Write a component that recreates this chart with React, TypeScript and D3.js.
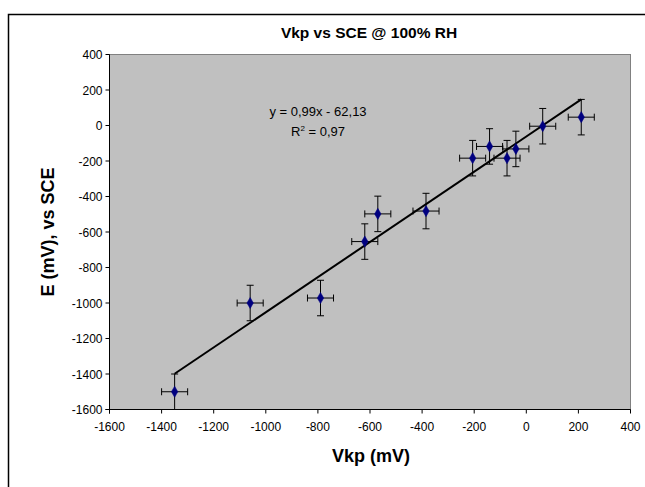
import React from "react";
import * as d3 from "d3";

const xVals = [-1350, -1060, -790, -620, -570, -385, -206, -141, -74, -40, 63, 211];
const yVals = [-1500, -1000, -972, -654, -498, -482, -184, -118, -184, -132, -4, 47];
const xErr = 50;
const yErr = 100;
const slope = 0.99;
const intercept = -62.13;
const xTicks = [-1600, -1400, -1200, -1000, -800, -600, -400, -200, 0, 200, 400];
const yTicks = [400, 200, 0, -200, -400, -600, -800, -1000, -1200, -1400, -1600];
const title = "Vkp vs SCE @ 100% RH";
const xTitle = "Vkp (mV)";
const yTitle = "E (mV), vs SCE";

export default function App() {
  const W = 645, H = 487;
  const L = 109.5, R = 630.5, T = 54.5, B = 409.5;
  const x = d3.scaleLinear().domain([-1600, 400]).range([L, R]);
  const y = d3.scaleLinear().domain([-1600, 400]).range([B, T]);
  const font = "Arial, 'Liberation Sans', sans-serif";
  const pts = xVals.map((v, i) => ({ x: v, y: yVals[i] }));
  const x0 = d3.min(xVals) as number;
  const x1 = d3.max(xVals) as number;
  const line = d3.line<number>().x((d) => x(d)).y((d) => y(slope * d + intercept));
  const cap = 3.5;
  return (
    <svg width={W} height={H} style={{ position: "absolute", left: 0, top: 0 }} fontFamily={font}>
      <rect x={0} y={0} width={W} height={H} fill="#fff" />
      <rect x={8.5} y={14.5} width={650} height={490} fill="#fff" stroke="#000" strokeWidth={1.5} />
      <text x={369} y={38} textAnchor="middle" fontSize={15.5} fontWeight="bold">{title}</text>
      <rect x={L} y={T} width={R - L} height={B - T} fill="#C0C0C0" stroke="#808080" strokeWidth={1} />
      <line x1={L} y1={T} x2={L} y2={B + 4} stroke="#000" />
      <line x1={L - 4} y1={B} x2={R} y2={B} stroke="#000" />
      {yTicks.map((t) => (
        <g key={"y" + t}>
          <line x1={L - 4} x2={L} y1={y(t)} y2={y(t)} stroke="#000" />
          <text x={L - 7} y={y(t) + 4.5} textAnchor="end" fontSize={12}>{t}</text>
        </g>
      ))}
      {xTicks.map((t) => (
        <g key={"x" + t}>
          <line x1={x(t)} x2={x(t)} y1={B} y2={B + 4} stroke="#000" />
          <text x={x(t)} y={B + 21.5} textAnchor="middle" fontSize={12}>{t}</text>
        </g>
      ))}
      <text x={371} y={462} textAnchor="middle" fontSize={18} fontWeight="bold">{xTitle}</text>
      <text transform={`translate(54,${(T + B) / 2}) rotate(-90)`} textAnchor="middle" fontSize={18} fontWeight="bold">{yTitle}</text>
      <path d={line([x0, x1]) || ""} fill="none" stroke="#000" strokeWidth={2} />
      {pts.map((p, i) => (
        <g key={"e" + i} stroke="#000" strokeWidth={1}>
          <line x1={x(p.x)} x2={x(p.x)} y1={y(p.y - yErr)} y2={y(p.y + yErr)} />
          <line x1={x(p.x) - cap} x2={x(p.x) + cap} y1={y(p.y - yErr)} y2={y(p.y - yErr)} />
          <line x1={x(p.x) - cap} x2={x(p.x) + cap} y1={y(p.y + yErr)} y2={y(p.y + yErr)} />
          <line x1={x(p.x - xErr)} x2={x(p.x + xErr)} y1={y(p.y)} y2={y(p.y)} />
          <line x1={x(p.x - xErr)} x2={x(p.x - xErr)} y1={y(p.y) - cap} y2={y(p.y) + cap} />
          <line x1={x(p.x + xErr)} x2={x(p.x + xErr)} y1={y(p.y) - cap} y2={y(p.y) + cap} />
        </g>
      ))}
      {pts.map((p, i) => (
        <path key={"m" + i} d={d3.symbol(d3.symbolDiamond, 36)() || ""} transform={`translate(${x(p.x)},${y(p.y)})`} fill="#000080" stroke="#000080" strokeWidth={0.5} />
      ))}
      <text x={318} y={116} textAnchor="middle" fontSize={13}>y = 0,99x - 62,13</text>
      <text x={318} y={136} textAnchor="middle" fontSize={13}>R<tspan dy={-5} fontSize={8}>2</tspan><tspan dy={5}> = 0,97</tspan></text>
    </svg>
  );
}
